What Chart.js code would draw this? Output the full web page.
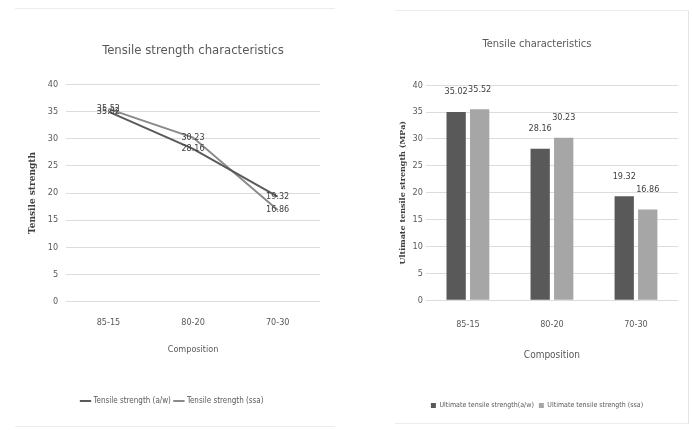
<!DOCTYPE html>
<html>
<head>
<meta charset="utf-8">
<script src="https://cdn.jsdelivr.net/npm/chart.js@4.4.0/dist/chart.umd.min.js"></script>
<style>
  body { margin: 0; background: #fff; width: 692px; height: 430px; position: relative; overflow: hidden; }
  .card { position: absolute; border-top: 1px solid #ececec; border-bottom: 1px solid #ececec; }
  #leftCard { left: 15px; top: 8px; width: 320px; height: 417px; }
  #rightCard { left: 395px; top: 10px; width: 293px; height: 412px; border-right: 1px solid #e4e4e4; }
</style>
</head>
<body>
<div class="card" id="leftCard"><canvas id="lineChart"></canvas></div>
<div class="card" id="rightCard"><canvas id="barChart"></canvas></div>
<script>
// categorias (composição)
var categories = ['85-15', '80-20', '70-30'];

// valores das séries
var awValues = [35.02, 28.16, 19.32];
var ssaValues = [35.52, 30.23, 16.86];

// ticks do eixo y
var yMin = 0;
var yMax = 40;
var yStep = 5;

var fontNarrow = '"Liberation Sans Narrow", "DejaVu Sans Condensed", "Roboto", sans-serif';
var grey = '#595959';

// rótulos de dados desenhados na posição de cada elemento
var dataLabels = {
    id: 'dataLabels',
    afterDatasetsDraw: function (chart, args, opts) {
        var ctx = chart.ctx;
        ctx.save();
        ctx.font = opts.font || ('10px ' + fontNarrow);
        ctx.fillStyle = opts.color || '#404040';
        ctx.textAlign = 'center';
        ctx.textBaseline = 'middle';
        chart.data.datasets.forEach(function (ds, i) {
            chart.getDatasetMeta(i).data.forEach(function (el, j) {
                var y = el.y + (opts.offsetY || 0);
                ctx.fillText(ds.data[j].toFixed(2), el.x, y);
            });
        });
        ctx.restore();
    }
};

Chart.defaults.font.family = fontNarrow;
Chart.defaults.color = grey;
Chart.defaults.animation = false;
Chart.defaults.maintainAspectRatio = false;
Chart.defaults.responsive = true;

// gráfico de linhas
new Chart(document.querySelector('#lineChart').getContext('2d'), {
    type: 'line',
    data: {
        labels: categories,
        datasets: [{
            label: 'Tensile strength (a/w)',
            data: awValues,
            borderColor: '#5a5a5a',
            backgroundColor: '#5a5a5a',
            borderWidth: 2,
            pointRadius: 0,
            tension: 0
        },
        {
            label: 'Tensile strength (ssa)',
            data: ssaValues,
            borderColor: '#8a8a8a',
            backgroundColor: '#8a8a8a',
            borderWidth: 2,
            pointRadius: 0,
            tension: 0
        }]
    },
    options: {
        layout: { padding: { top: 0, right: 15, bottom: 11, left: 10 } },
        plugins: {
            title: {
                display: true,
                fullSize: false,
                text: 'Tensile strength characteristics',
                font: { size: 13, weight: 'normal' },
                color: '#595959',
                padding: { top: 34, bottom: 26 }
            },
            legend: {
                position: 'bottom',
                labels: {
                    usePointStyle: true,
                    pointStyle: 'line',
                    boxWidth: 14,
                    font: { size: 8 },
                    padding: 4
                }
            },
            tooltip: { enabled: false },
            dataLabels: { font: '9px ' + fontNarrow, color: '#404040', offsetY: 0 }
        },
        scales: {
            x: {
                offset: true,
                grid: { display: false, drawTicks: false },
                border: { display: false },
                ticks: { font: { size: 9 }, padding: 16 },
                title: { display: true, text: 'Composition', font: { size: 9 }, padding: { top: 0, bottom: 38 } }
            },
            y: {
                min: yMin,
                max: yMax,
                ticks: { stepSize: yStep, font: { size: 9 }, padding: 8 },
                grid: { color: '#dcdcdc', drawTicks: false },
                border: { display: false },
                title: { display: true, text: 'Tensile strength', font: { size: 9, weight: 'bold', family: 'DejaVu Serif' }, color: '#404040', padding: 2 }
            }
        }
    },
    plugins: [dataLabels]
});

// gráfico de barras
new Chart(document.querySelector('#barChart').getContext('2d'), {
    type: 'bar',
    data: {
        labels: categories,
        datasets: [{
            label: 'Ultimate tensile strength(a/w)',
            data: awValues,
            backgroundColor: '#595959'
        },
        {
            label: 'Ultimate tensile strength (ssa)',
            data: ssaValues,
            backgroundColor: '#a6a6a6'
        }]
    },
    options: {
        layout: { padding: { top: 0, right: 10, bottom: 4, left: 1 } },
        datasets: { bar: { categoryPercentage: 0.56, barPercentage: 0.82 } },
        plugins: {
            title: {
                display: true,
                text: 'Tensile characteristics',
                font: { size: 11, weight: 'normal' },
                color: '#595959',
                padding: { top: 27, bottom: 34 }
            },
            legend: {
                position: 'bottom',
                labels: {
                    usePointStyle: true,
                    pointStyle: 'rect',
                    boxWidth: 5,
                    boxHeight: 5,
                    font: { size: 7 },
                    padding: 5
                }
            },
            tooltip: { enabled: false },
            dataLabels: { font: '9px ' + fontNarrow, color: '#404040', offsetY: -20 }
        },
        scales: {
            x: {
                grid: { display: false, drawTicks: false },
                border: { display: false },
                ticks: { font: { size: 9 }, padding: 19 },
                title: { display: true, text: 'Composition', font: { size: 10 }, padding: { top: 0, bottom: 36 } }
            },
            y: {
                min: yMin,
                max: yMax,
                ticks: { stepSize: yStep, font: { size: 9 }, padding: 3 },
                grid: { color: '#dcdcdc', drawTicks: false },
                border: { display: false },
                title: { display: true, text: 'Ultimate tensile strength (MPa)', font: { size: 8, weight: 'bold', family: 'DejaVu Serif' }, color: '#404040', padding: 2 }
            }
        }
    },
    plugins: [dataLabels]
});
</script>
</body>
</html>
